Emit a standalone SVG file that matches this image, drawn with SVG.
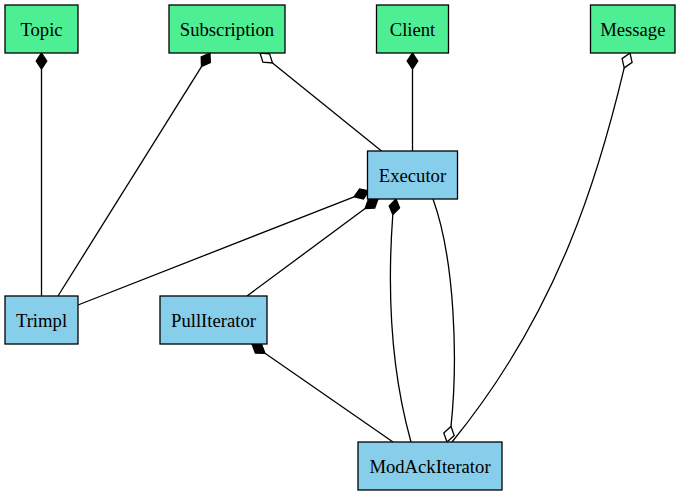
<svg xmlns="http://www.w3.org/2000/svg" width="683" height="496" viewBox="0 0 683 496">
<style>
.g rect{fill:#4eee94;stroke:#000;stroke-width:1.3}
.b rect{fill:#87ceeb;stroke:#000;stroke-width:1.3}
text{font-family:"Liberation Serif","Times New Roman",serif;font-size:18.67px;text-anchor:middle;fill:#000}
#edges path{fill:none;stroke:#000;stroke-width:1.3}
#edges polygon.f{fill:#000;stroke:#000;stroke-width:1.3}
#edges polygon.o{fill:#fff;stroke:#000;stroke-width:1.3}
</style>
<rect width="683" height="496" fill="#fff"/>
<g id="edges">
<path d="M41.5,69 L41.5,296"/>
<polygon class="f" points="41.5,53 46.8,61 41.5,69 36.2,61"/>
<path d="M201.5,66.6 L58,296"/>
<polygon class="f" points="210,53 210.3,62.6 201.5,66.6 201.2,57"/>
<path d="M272.5,63 L381.5,151"/>
<polygon class="o" points="260,53 262.9,62.2 272.5,63 269.6,53.9"/>
<path d="M412.5,69 L412.5,151"/>
<polygon class="f" points="412.5,53 417.8,61 412.5,69 407.2,61"/>
<path d="M624.2,67.9 C600,170 560,310 452,442"/>
<polygon class="o" points="630,53 632.1,62.4 624.2,67.9 622.1,58.6"/>
<path d="M354.1,196.8 L78,305"/>
<polygon class="f" points="369,191 363.5,198.9 354.1,196.8 359.6,188.9"/>
<path d="M365.1,208.5 L247,296"/>
<polygon class="f" points="378,199 374.7,208.1 365.1,208.5 368.4,199.5"/>
<path d="M392.8,214.7 C388,280 388,360 411,442"/>
<polygon class="f" points="396,199 399.6,207.9 392.8,214.7 389.2,205.8"/>
<path d="M451,426.5 C458,360 455,260 433,199"/>
<polygon class="o" points="447,442 454.2,435.6 451,426.5 443.8,432.9"/>
<path d="M265,353.3 L393,442"/>
<polygon class="f" points="252,344 255.4,353 265,353.3 261.6,344.3"/>
</g>
<g id="Topic" class="g"><rect x="5" y="5" width="73" height="48"/><text x="41.5" y="35.5">Topic</text></g>
<g id="Subscription" class="g"><rect x="169" y="5" width="116" height="48"/><text x="227" y="35.5">Subscription</text></g>
<g id="Client" class="g"><rect x="376.5" y="5" width="72" height="48"/><text x="412.5" y="35.5">Client</text></g>
<g id="Message" class="g"><rect x="590.5" y="5" width="84.5" height="48"/><text x="632.8" y="35.5">Message</text></g>
<g id="Executor" class="b"><rect x="367.5" y="151" width="90" height="48"/><text x="412.5" y="181.5">Executor</text></g>
<g id="Trimpl" class="b"><rect x="5" y="296" width="73" height="48"/><text x="41.5" y="326.5">Trimpl</text></g>
<g id="PullIterator" class="b"><rect x="160" y="296" width="107" height="48"/><text x="213.5" y="326.5">PullIterator</text></g>
<g id="ModAckIterator" class="b"><rect x="358" y="442" width="144" height="48"/><text x="430" y="472.5">ModAckIterator</text></g>
</svg>
